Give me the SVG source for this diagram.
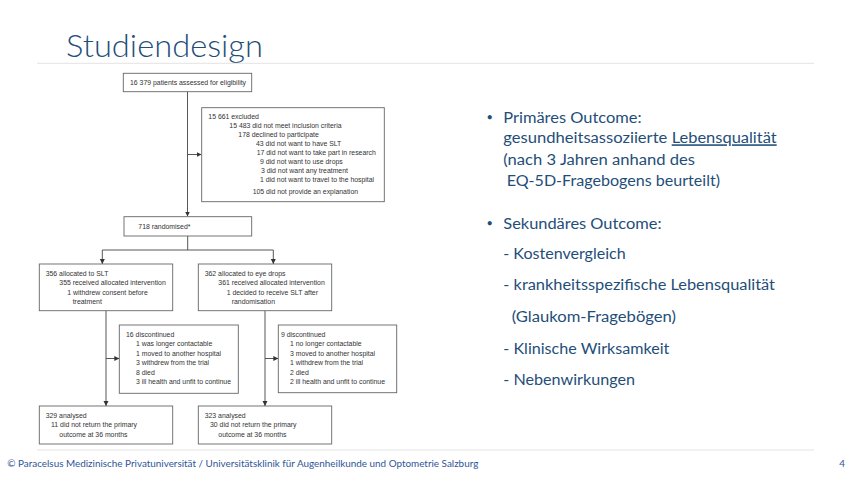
<svg xmlns="http://www.w3.org/2000/svg" width="850" height="478" viewBox="0 0 850 478">
<defs>
<marker id="ah" markerUnits="userSpaceOnUse" markerWidth="6" markerHeight="6" refX="5" refY="3" orient="auto">
<path d="M0,0.5 L5,3 L0,5.5 Z" fill="#333"/>
</marker>
<style>
.box{fill:#fff;stroke:#666;stroke-width:0.9}
.fc{font-family:"Liberation Sans",Arial,sans-serif;font-size:6.9px;fill:#333}
.cn{stroke:#444;stroke-width:0.9;fill:none}
.cn.a{marker-end:url(#ah)}
.rt{font-family:Lato,"Open Sans",sans-serif;font-size:15.5px;fill:#1f4e79}
.bl{font-family:Lato,"Open Sans",sans-serif;font-size:11px;fill:#1f4e79}
.sep{stroke:#e3e3e3;stroke-width:1}
</style>
</defs>
<rect width="850" height="478" fill="#fff"/>
<text x="66" y="56.7" font-family="Lato,'Open Sans',sans-serif" font-weight="300" font-size="32" fill="#1f4e79" textLength="197" lengthAdjust="spacingAndGlyphs">Studiendesign</text>
<line class="sep" x1="37" y1="63.3" x2="814" y2="63.3"/>
<line class="sep" x1="37" y1="450" x2="814" y2="450"/>

<g id="connectors">
<line class="cn a" x1="187.5" y1="91.7" x2="187.5" y2="216.5"/>
<line class="cn a" x1="187.5" y1="154.5" x2="201.5" y2="154.5"/>
<line class="cn" x1="187.7" y1="236" x2="187.7" y2="250"/>
<line class="cn" x1="102.3" y1="250" x2="273.3" y2="250"/>
<line class="cn a" x1="102.3" y1="250" x2="102.3" y2="264"/>
<line class="cn a" x1="273.3" y1="250" x2="273.3" y2="264"/>
<line class="cn a" x1="106" y1="310.7" x2="106" y2="406"/>
<line class="cn a" x1="265" y1="310.7" x2="265" y2="406"/>
<line class="cn a" x1="106" y1="358.5" x2="119.3" y2="358.5"/>
<line class="cn a" x1="265" y1="358.5" x2="278.3" y2="358.5"/>
</g>

<g id="n-assessed">
<rect class="box" x="123.3" y="73.3" width="128.4" height="18.4"/>
<text class="fc" x="130" y="84.8">16 379 patients assessed for eligibility</text>
</g>

<g id="n-excluded">
<rect class="box" x="201.7" y="107.7" width="182.6" height="94"/>
<text class="fc" x="208.3" y="119">15 661 excluded</text>
<text class="fc" x="229.3" y="128">15 483 did not meet inclusion criteria</text>
<text class="fc" x="238.3" y="137.3">178 declined to participate</text>
<text class="fc" x="256" y="145.6">43 did not want to have SLT</text>
<text class="fc" x="256.7" y="154.6">17 did not want to take part in research</text>
<text class="fc" x="260" y="164">9 did not want to use drops</text>
<text class="fc" x="261" y="173">3 did not want any treatment</text>
<text class="fc" x="260" y="182.3">1 did not want to travel to the hospital</text>
<text class="fc" x="252.7" y="194.3">105 did not provide an explanation</text>
</g>

<g id="n-randomised">
<rect class="box" x="124" y="216.7" width="127.7" height="19.3"/>
<text class="fc" x="138.3" y="228.8">718 randomised*</text>
</g>

<g id="n-slt">
<rect class="box" x="39.3" y="264" width="133.4" height="46.7"/>
<text class="fc" x="45.7" y="275.6">356 allocated to SLT</text>
<text class="fc" x="59.3" y="285.3">355 received allocated intervention</text>
<text class="fc" x="67.3" y="294.7">1 withdrew consent before</text>
<text class="fc" x="72.7" y="304.3">treatment</text>
</g>

<g id="n-drops">
<rect class="box" x="198.3" y="264" width="133.4" height="46.7"/>
<text class="fc" x="204.7" y="275.6">362 allocated to eye drops</text>
<text class="fc" x="218.3" y="285.3">361 received allocated intervention</text>
<text class="fc" x="226.7" y="294.7">1 decided to receive SLT after</text>
<text class="fc" x="231.7" y="304.3">randomisation</text>
</g>

<g id="n-disc-slt">
<rect class="box" x="119.3" y="325" width="119" height="68.3"/>
<text class="fc" x="126" y="336.6">16 discontinued</text>
<text class="fc" x="136" y="346.3">1 was longer contactable</text>
<text class="fc" x="136" y="355.6">1 moved to another hospital</text>
<text class="fc" x="136" y="365">3 withdrew from the trial</text>
<text class="fc" x="136" y="374.6">8 died</text>
<text class="fc" x="136" y="384">3 ill health and unfit to continue</text>
</g>

<g id="n-disc-drops">
<rect class="box" x="278.3" y="325" width="118.4" height="67.7"/>
<text class="fc" x="281" y="336.6">9 discontinued</text>
<text class="fc" x="290" y="346.3">1 no longer contactable</text>
<text class="fc" x="290" y="355.6">3 moved to another hospital</text>
<text class="fc" x="290" y="365">1 withdrew from the trial</text>
<text class="fc" x="290" y="374.6">2 died</text>
<text class="fc" x="290" y="384">2 ill health and unfit to continue</text>
</g>

<g id="n-analysed-slt">
<rect class="box" x="39.3" y="406" width="133.4" height="38"/>
<text class="fc" x="45.7" y="418">329 analysed</text>
<text class="fc" x="51" y="427.3">11 did not return the primary</text>
<text class="fc" x="59.3" y="436.6">outcome at 36 months</text>
</g>

<g id="n-analysed-drops">
<rect class="box" x="198.3" y="406" width="133.4" height="38"/>
<text class="fc" x="204.7" y="418">323 analysed</text>
<text class="fc" x="210" y="427.3">30 did not return the primary</text>
<text class="fc" x="218.3" y="436.6">outcome at 36 months</text>
</g>

<g id="outcomes">
<text class="bl" x="486.5" y="120.5">•</text>
<text class="rt" x="503.3" y="122.7" textLength="138.3" lengthAdjust="spacingAndGlyphs">Primäres Outcome:</text>
<text class="rt" x="503.3" y="143.3" textLength="164" lengthAdjust="spacingAndGlyphs">gesundheitsassoziierte</text>
<text class="rt" x="671.7" y="143.3" textLength="105" lengthAdjust="spacingAndGlyphs" text-decoration="underline">Lebensqualität</text>
<text class="rt" x="503.3" y="165" textLength="191.7" lengthAdjust="spacingAndGlyphs">(nach 3 Jahren anhand des</text>
<text class="rt" x="506.7" y="186" textLength="213.3" lengthAdjust="spacingAndGlyphs">EQ-5D-Fragebogens beurteilt)</text>
<text class="bl" x="486.5" y="227">•</text>
<text class="rt" x="503.3" y="229.3" textLength="158.3" lengthAdjust="spacingAndGlyphs">Sekundäres Outcome:</text>
<text class="rt" x="503.3" y="259" textLength="122.4" lengthAdjust="spacingAndGlyphs">- Kostenvergleich</text>
<text class="rt" x="503.3" y="290" textLength="271.7" lengthAdjust="spacingAndGlyphs">- krankheitsspezifische Lebensqualität</text>
<text class="rt" x="511.7" y="322.3" textLength="164.3" lengthAdjust="spacingAndGlyphs">(Glaukom-Fragebögen)</text>
<text class="rt" x="503.3" y="354.3" textLength="166" lengthAdjust="spacingAndGlyphs">- Klinische Wirksamkeit</text>
<text class="rt" x="503.3" y="385" textLength="131.7" lengthAdjust="spacingAndGlyphs">- Nebenwirkungen</text>
</g>

<text x="7.3" y="466.7" font-family="Lato,'Open Sans',sans-serif" font-size="9.8" fill="#2f5597" textLength="471" lengthAdjust="spacingAndGlyphs">© Paracelsus Medizinische Privatuniversität / Universitätsklinik für Augenheilkunde und Optometrie Salzburg</text>
<text x="839.3" y="466.7" font-family="Lato,'Open Sans',sans-serif" font-size="9.8" fill="#2f5597">4</text>
</svg>
